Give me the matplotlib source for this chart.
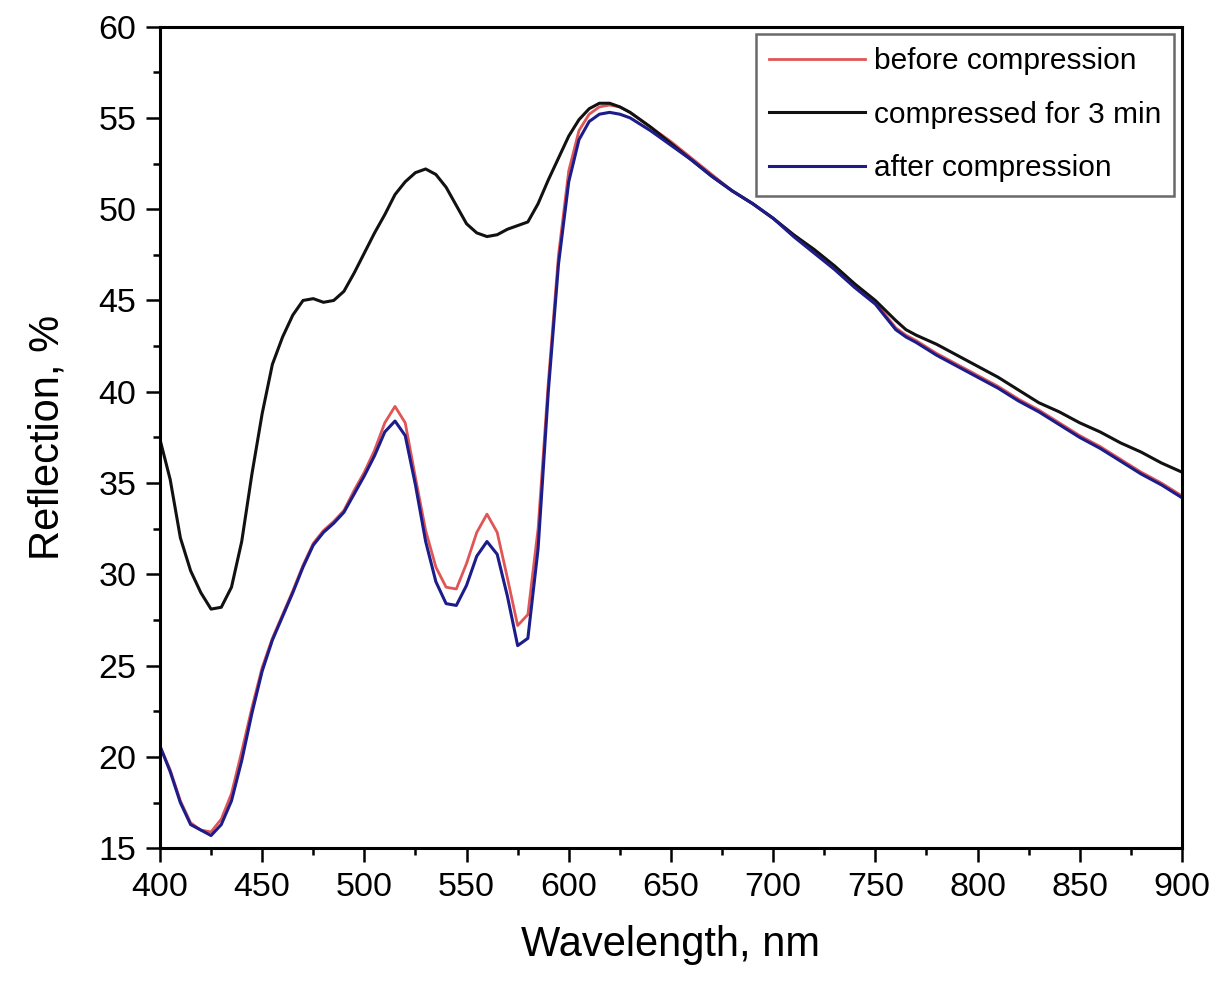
import matplotlib
matplotlib.use("Agg")
import matplotlib.pyplot as plt
from matplotlib.ticker import MultipleLocator

plt.rcParams['font.family'] = ['Liberation Sans', 'DejaVu Sans']

# wavelength grid, nm
wavelength = [400, 405, 410, 415, 420, 425, 430, 435, 440, 445, 450, 455, 460, 465, 470,
              475, 480, 485, 490, 495, 500, 505, 510, 515, 520, 525, 530, 535, 540, 545,
              550, 555, 560, 565, 570, 575, 580, 585, 590, 595, 600, 605, 610, 615, 620,
              625, 630, 640, 650, 660, 670, 680, 690, 700, 710, 720, 730, 740, 750, 760,
              765, 770, 780, 790, 800, 810, 820, 830, 840, 850, 860, 870, 880, 890, 900]

# reflection, %
before = [20.6, 19.3, 17.6, 16.4, 16.0, 15.9, 16.6, 18.0, 20.3, 22.7, 24.9, 26.5, 27.8, 29.1, 30.5,
          31.7, 32.4, 32.9, 33.5, 34.6, 35.6, 36.8, 38.3, 39.2, 38.3, 35.3, 32.4, 30.4, 29.3, 29.2,
          30.6, 32.3, 33.3, 32.3, 29.8, 27.2, 27.8, 32.5, 40.5, 47.5, 52.1, 54.3, 55.2, 55.6, 55.7,
          55.6, 55.3, 54.5, 53.7, 52.8, 51.9, 51.0, 50.3, 49.5, 48.6, 47.7, 46.8, 45.8, 44.9, 43.5,
          43.1, 42.8, 42.1, 41.5, 40.9, 40.3, 39.6, 39.0, 38.3, 37.6, 37.0, 36.3, 35.6, 35.0, 34.3]

compressed = [37.4, 35.2, 32.0, 30.2, 29.0, 28.1, 28.2, 29.3, 31.8, 35.5, 38.8, 41.5, 43.0, 44.2, 45.0,
              45.1, 44.9, 45.0, 45.5, 46.5, 47.6, 48.7, 49.7, 50.8, 51.5, 52.0, 52.2, 51.9, 51.2, 50.2,
              49.2, 48.7, 48.5, 48.6, 48.9, 49.1, 49.3, 50.3, 51.6, 52.8, 54.0, 54.9, 55.5, 55.8, 55.8,
              55.6, 55.3, 54.5, 53.6, 52.7, 51.8, 51.0, 50.3, 49.5, 48.6, 47.8, 46.9, 45.9, 45.0, 43.9,
              43.4, 43.1, 42.6, 42.0, 41.4, 40.8, 40.1, 39.4, 38.9, 38.3, 37.8, 37.2, 36.7, 36.1, 35.6]

after = [20.6, 19.2, 17.5, 16.3, 16.0, 15.7, 16.3, 17.6, 19.8, 22.4, 24.7, 26.4, 27.7, 29.0, 30.4,
         31.6, 32.3, 32.8, 33.4, 34.4, 35.4, 36.5, 37.8, 38.4, 37.6, 34.9, 31.8, 29.6, 28.4, 28.3,
         29.4, 31.0, 31.8, 31.1, 28.8, 26.1, 26.5, 31.4, 40.0, 47.0, 51.5, 53.8, 54.8, 55.2, 55.3,
         55.2, 55.0, 54.3, 53.5, 52.7, 51.8, 51.0, 50.3, 49.5, 48.5, 47.6, 46.7, 45.7, 44.8, 43.4,
         43.0, 42.7, 42.0, 41.4, 40.8, 40.2, 39.5, 38.9, 38.2, 37.5, 36.9, 36.2, 35.5, 34.9, 34.2]

fig = plt.figure(figsize=(12.21, 9.83), dpi=100)
ax = fig.add_axes([0.131, 0.137, 0.837, 0.836])

ax.plot(wavelength, before, color='#e05555', linewidth=2.0, label='before compression')
ax.plot(wavelength, compressed, color='#111111', linewidth=2.2, label='compressed for 3 min')
ax.plot(wavelength, after, color='#1c1c8a', linewidth=2.2, label='after compression')

ax.set_xlim(400, 900)
ax.set_ylim(15, 60)
ax.xaxis.set_major_locator(MultipleLocator(50))
ax.xaxis.set_minor_locator(MultipleLocator(25))
ax.yaxis.set_major_locator(MultipleLocator(5))
ax.yaxis.set_minor_locator(MultipleLocator(2.5))
ax.tick_params(which='major', direction='out', length=10, width=1.8, labelsize=24.5, pad=7)
ax.tick_params(which='minor', direction='out', length=5, width=1.8)
for s in ax.spines.values():
    s.set_linewidth(2.2)

ax.set_xlabel('Wavelength, nm', fontsize=30, labelpad=16)
ax.set_ylabel('Reflection, %', fontsize=30, labelpad=22)

leg = ax.legend(loc='upper right', fontsize=21.5, frameon=True, fancybox=False,
                handlelength=3.2, handletextpad=0.3, labelspacing=0.85,
                borderaxespad=0.25, borderpad=0.45)
leg.get_frame().set_edgecolor('#444444')
leg.get_frame().set_linewidth(1.8)

fig.savefig('out.png', dpi=100)
